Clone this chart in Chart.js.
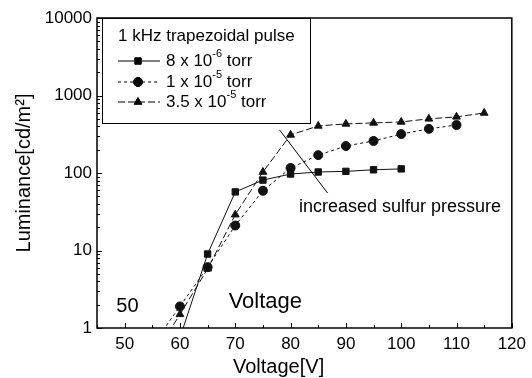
<!DOCTYPE html>
<html>
<head>
<meta charset="utf-8">
<script src="https://cdn.jsdelivr.net/npm/chart.js@4/dist/chart.umd.min.js"></script>
<style>
  html, body { margin: 0; padding: 0; background: #fff; }
  #wrap { width: 532px; height: 378px; }
</style>
</head>
<body>
<div id="wrap"><canvas id="myChart"></canvas></div>
<script>
// data
const voltageLow = [60, 65, 70, 75, 80, 85, 90, 95, 100];
const lumLow = [0.75, 9, 57, 81, 97, 103, 105, 110, 113];          // 8 x 10^-6 torr

const voltageMid = [55, 60, 65, 70, 75, 80, 85, 90, 95, 100, 105, 110];
const lumMid = [0.6, 1.9, 6.1, 21, 59, 116, 170, 223, 259, 318, 371, 416];   // 1 x 10^-5 torr

const voltageHigh = [55, 60, 65, 70, 75, 80, 85, 90, 95, 100, 105, 110, 115];
const lumHigh = [0.4, 1.5, 5.8, 29, 103, 310, 405, 430, 443, 456, 500, 530, 595]; // 3.5 x 10^-5 torr

const xTicks = [50, 60, 70, 80, 90, 100, 110, 120];
const yTicks = [1, 10, 100, 1000, 10000];

const legendTitle = '1 kHz trapezoidal pulse';
const seriesNames = [['8 x 10', '-6', ' torr'], ['1 x 10', '-5', ' torr'], ['3.5 x 10', '-5', ' torr']];

const FONT = '"Liberation Sans", Arial, sans-serif';

function pts(xs, ys) {
  return xs.map((x, i) => ({ x: x, y: ys[i] }));
}

// box, inward ticks, legend and notes
const framePlugin = {
  id: 'frame',
  afterDraw(chart) {
    const ctx = chart.ctx;
    const a = chart.chartArea;
    const xs = chart.scales.x, ys = chart.scales.y;
    ctx.save();
    ctx.strokeStyle = '#000';
    ctx.lineWidth = 1.5;
    ctx.strokeRect(a.left, a.top, a.right - a.left, a.bottom - a.top);

    ctx.lineWidth = 1;
    ctx.beginPath();
    for (let v = 45; v <= 120; v += 5) {
      const px = Math.round(xs.getPixelForValue(v)) + 0.5;
      const len = v % 10 === 0 ? 5 : 3;
      ctx.moveTo(px, a.bottom); ctx.lineTo(px, a.bottom - len);
    }
    for (let d = 1; d < 10000; d *= 10) {
      for (let m = 1; m <= 10; m++) {
        const py = Math.round(ys.getPixelForValue(d * m)) + 0.5;
        const len = (m === 1 || m === 10) ? 5 : 3;
        ctx.moveTo(a.left, py); ctx.lineTo(a.left + len, py);
      }
    }
    ctx.stroke();

    // annotation line + texts
    ctx.beginPath();
    ctx.moveTo(xs.getPixelForValue(78.0), ys.getPixelForValue(360));
    ctx.lineTo(xs.getPixelForValue(86.7), ys.getPixelForValue(55));
    ctx.stroke();

    ctx.fillStyle = '#000';
    ctx.textBaseline = 'middle';
    ctx.textAlign = 'left';
    ctx.font = '18px ' + FONT;
    ctx.fillText('increased sulfur pressure', xs.getPixelForValue(81.5), ys.getPixelForValue(36));
    ctx.font = '22px ' + FONT;
    ctx.fillText('Voltage', xs.getPixelForValue(68.8), ys.getPixelForValue(2.2));
    ctx.font = '20px ' + FONT;
    ctx.fillText('50', xs.getPixelForValue(48.5), ys.getPixelForValue(1.87));

    // x axis title (sits left of centre in the original)
    ctx.font = '20px ' + FONT;
    ctx.fillText('Voltage[V]', 233, 367);

    // legend box
    const bx = 102, by = a.top, bw = 208, bh = 105;
    ctx.fillStyle = '#fff';
    ctx.fillRect(bx, by, bw, bh);
    ctx.strokeRect(bx + 0.5, by + 0.5, bw, bh);
    ctx.fillStyle = '#000';
    ctx.font = '17px ' + FONT;
    ctx.fillText(legendTitle, 118, 36);
    const rows = [61, 82, 102];
    chart.data.datasets.forEach((ds, i) => {
      const y = rows[i];
      ctx.save();
      ctx.setLineDash(ds.borderDash || []);
      ctx.beginPath();
      ctx.moveTo(118, y); ctx.lineTo(160, y);
      ctx.stroke();
      ctx.restore();
      Chart.helpers.drawPoint(ctx, { pointStyle: ds.pointStyle, radius: ds.pointRadius, borderWidth: 1 }, 138, y);
      ctx.fill();
      const parts = seriesNames[i];
      let x = 166;
      ctx.font = '17px ' + FONT;
      ctx.fillText(parts[0], x, y);
      x += ctx.measureText(parts[0]).width;
      ctx.font = '11px ' + FONT;
      ctx.fillText(parts[1], x, y - 7);
      x += ctx.measureText(parts[1]).width;
      ctx.font = '17px ' + FONT;
      ctx.fillText(parts[2], x, y);
    });
    ctx.restore();
  }
};

const common = {
  borderColor: '#111',
  backgroundColor: '#111',
  pointBackgroundColor: '#111',
  pointBorderColor: '#111',
  borderWidth: 1,
  pointRadius: 4.5,
  tension: 0
};

const ctx = document.getElementById('myChart').getContext('2d');
const myChart = new Chart(ctx, {
  type: 'line',
  data: {
    datasets: [
      Object.assign({ label: '8 x 10^-6 torr', data: pts(voltageLow, lumLow), pointStyle: 'rect', borderDash: [] }, common),
      Object.assign({ label: '1 x 10^-5 torr', data: pts(voltageMid, lumMid), pointStyle: 'circle', borderDash: [3, 3] }, common),
      Object.assign({ label: '3.5 x 10^-5 torr', data: pts(voltageHigh, lumHigh), pointStyle: 'triangle', borderDash: [7, 3] }, common)
    ]
  },
  options: {
    responsive: true,
    maintainAspectRatio: false,
    animation: false,
    layout: { padding: { top: 18, right: 12, left: 0, bottom: 0 } },
    plugins: {
      legend: { display: false },
      tooltip: { enabled: false }
    },
    scales: {
      x: {
        type: 'linear',
        min: 45,
        max: 120,
        afterBuildTicks: s => { s.ticks = xTicks.map(v => ({ value: v })); },
        afterFit: s => { s.height = 50; },
        grid: { display: false, drawOnChartArea: false, drawTicks: false, tickLength: 0 },
        border: { display: false },
        ticks: { color: '#000', font: { family: FONT, size: 17 }, padding: 6, maxRotation: 0 }
      },
      y: {
        type: 'logarithmic',
        min: 1,
        max: 10000,
        afterBuildTicks: s => { s.ticks = yTicks.map(v => ({ value: v })); },
        afterFit: s => { s.width = 97; },
        grid: { display: false, drawOnChartArea: false, drawTicks: false, tickLength: 0 },
        border: { display: false },
        ticks: { color: '#000', font: { family: FONT, size: 17 }, padding: 5, callback: v => String(v) },
        title: { display: true, text: 'Luminance[cd/m²]', color: '#000', font: { family: FONT, size: 20 }, padding: { top: 12, bottom: 0 } }
      }
    }
  },
  plugins: [framePlugin]
});
</script>
</body>
</html>
